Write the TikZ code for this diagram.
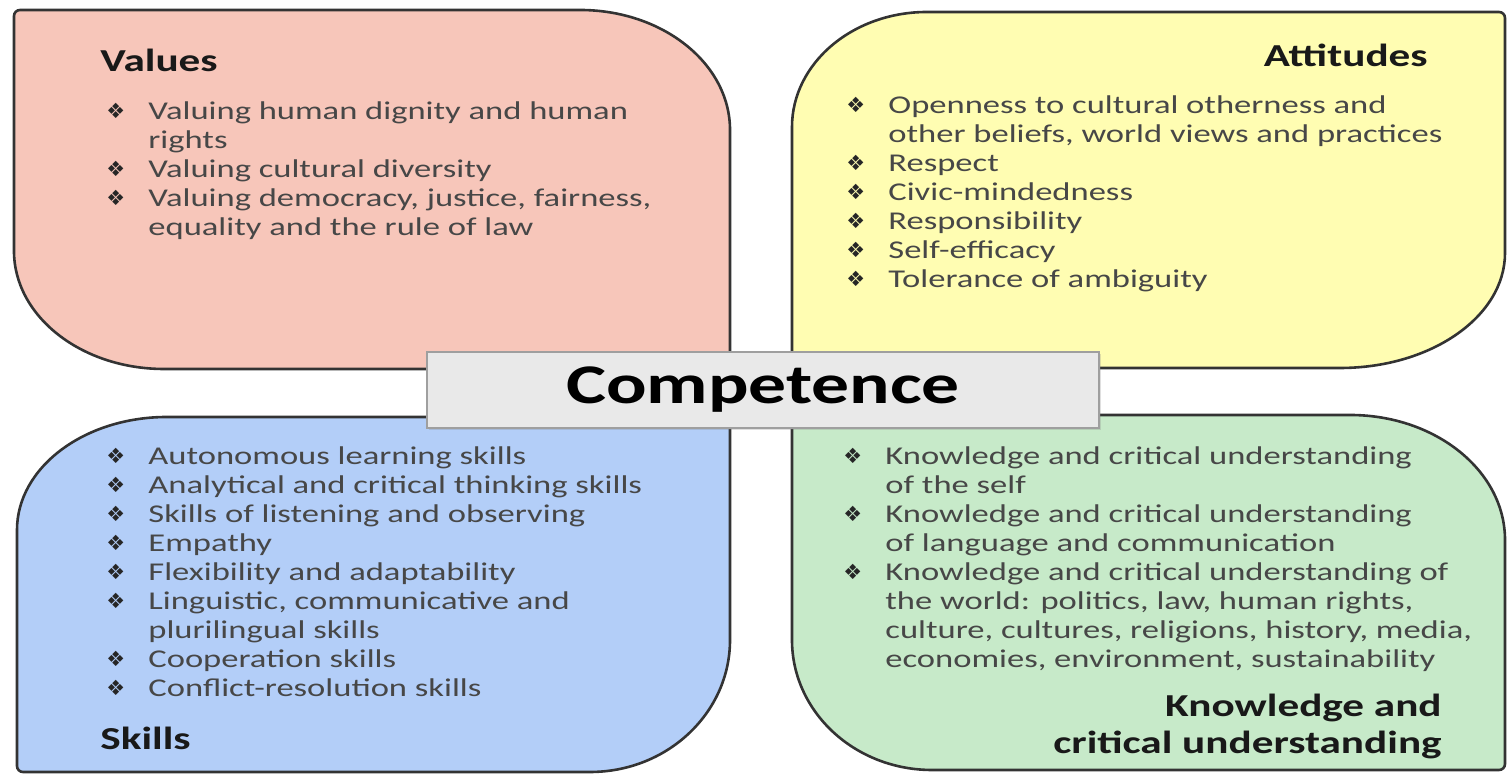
\documentclass[tikz,border=0pt]{standalone}
\usepackage{fontspec}
\setmainfont{Carlito}[FakeStretch=1.35]
\newfontfamily\bulfont{DejaVu Sans}
\usetikzlibrary{shadows}
\definecolor{valpink}{HTML}{F7C6BA}
\definecolor{attyellow}{HTML}{FFFDB2}
\definecolor{skillblue}{HTML}{B3CEF8}
\definecolor{knowgreen}{HTML}{C7EAC9}
\definecolor{bordergray}{HTML}{333333}
\newcommand\itm{\makebox[21pt][l]{\raisebox{0.2pt}{\bulfont\fontsize{10.5}{10.5}\selectfont\color{black!85}❖}}}
\newcommand\cont{\hspace*{21pt}}
\tikzset{
  quad/.style={draw=bordergray, line width=1.3pt},
  listtext/.style={anchor=north west, inner sep=0pt, align=left, text=black!72,
    font=\fontsize{12.8}{14.5}\selectfont},
  title/.style={inner sep=0pt, text=black!90, font=\fontsize{16}{18.5}\selectfont\bfseries},
  compbox/.style={draw=gray!75, fill=gray!17, line width=0.8pt,
    minimum width=336pt, minimum height=38pt, inner sep=0pt,
    font=\fontsize{28}{30}\selectfont\bfseries,
    drop shadow={opacity=0.25, shadow xshift=1.2pt, shadow yshift=-1.2pt}}
}

\begin{document}
\begin{tikzpicture}[x=0.5pt, y=0.5pt]
    \useasboundingbox (0,0) rectangle (1511,774);

    %%%%% quadrants %%%%%
    \draw[quad, fill=valpink] (20,764) -- (580,764)
        arc[start angle=90, end angle=0, x radius=150, y radius=120] -- (730,411)
        arc[start angle=0, end angle=-90, radius=6] -- (164,405)
        arc[start angle=270, end angle=180, x radius=150, y radius=118] -- (14,758)
        arc[start angle=180, end angle=90, radius=6] -- cycle;

    \draw[quad, fill=attyellow] (927,762) -- (1499,762)
        arc[start angle=90, end angle=0, radius=6] -- (1505,521)
        arc[start angle=0, end angle=-90, x radius=165, y radius=115] -- (798,406)
        arc[start angle=270, end angle=180, radius=6] -- (792,647)
        arc[start angle=180, end angle=90, x radius=135, y radius=115] -- cycle;

    \draw[quad, fill=skillblue] (167,357) -- (724,357)
        arc[start angle=90, end angle=0, radius=6] -- (730,134)
        arc[start angle=0, end angle=-90, x radius=140, y radius=132] -- (23,2)
        arc[start angle=270, end angle=180, radius=6] -- (17,244)
        arc[start angle=180, end angle=90, x radius=150, y radius=113] -- cycle;

    \draw[quad, fill=knowgreen] (798,359) -- (1350,359)
        arc[start angle=90, end angle=0, x radius=155, y radius=125] -- (1505,10)
        arc[start angle=0, end angle=-90, radius=6] -- (932,4)
        arc[start angle=270, end angle=180, x radius=140, y radius=130] -- (792,353)
        arc[start angle=180, end angle=90, radius=6] -- cycle;

    %%%%% titles %%%%%
    \node[title, anchor=base west] (valtitle) at (100,702) {Values};
    \node[title, anchor=base east] (atttitle) at (1428,707) {Attitudes};
    \node[title, anchor=base west] (skilltitle) at (100,24) {Skills};
    \node[title, anchor=north east, align=right] (knowtitle) at (1442,80)
        {Knowledge and\\critical understanding};

    %%%%% lists %%%%%
    \node[listtext] (vallist) at (106,673) {%
        \itm Valuing human dignity and human\\
        \cont rights\\
        \itm Valuing cultural diversity\\
        \itm Valuing democracy, justice, fairness,\\
        \cont equality and the rule of law};

    \node[listtext] (attlist) at (846,679) {%
        \itm Openness to cultural otherness and\\
        \cont other beliefs, world views and practices\\
        \itm Respect\\
        \itm Civic-mindedness\\
        \itm Responsibility\\
        \itm Self-efficacy\\
        \itm Tolerance of ambiguity};

    \node[listtext] (skilllist) at (106,328) {%
        \itm Autonomous learning skills\\
        \itm Analytical and critical thinking skills\\
        \itm Skills of listening and observing\\
        \itm Empathy\\
        \itm Flexibility and adaptability\\
        \itm Linguistic, communicative and\\
        \cont plurilingual skills\\
        \itm Cooperation skills\\
        \itm Conflict-resolution skills};

    \node[listtext] (knowlist) at (843,328) {%
        \itm Knowledge and critical understanding\\
        \cont of the self\\
        \itm Knowledge and critical understanding\\
        \cont of language and communication\\
        \itm Knowledge and critical understanding of\\
        \cont the world: politics, law, human rights,\\
        \cont culture, cultures, religions, history, media,\\
        \cont economies, environment, sustainability};

    %%%%% centre %%%%%
    \node[compbox] (comp) at (763,384) {Competence};
\end{tikzpicture}
\end{document}
